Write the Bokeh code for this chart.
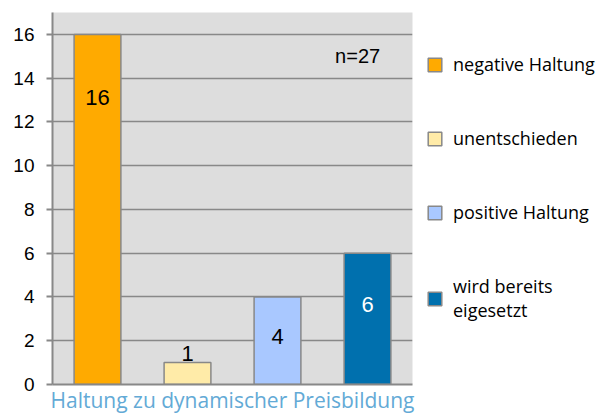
from bokeh.plotting import figure
from bokeh.models import ColumnDataSource, Range1d, Legend, LegendItem, FixedTicker, Label
from bokeh.embed import file_html
from bokeh.resources import INLINE
from bokeh.core.properties import value

categories = ["negative Haltung", "unentschieden", "positive Haltung", "wird bereits eigesetzt"]
legend_labels = ["negative Haltung", "unentschieden", "positive Haltung", "wird bereits\neigesetzt"]
counts = [16, 1, 4, 6]
colors = ["#FFAA00", "#FFEBA8", "#A9C8FF", "#0070AE"]
label_colors = ["black", "black", "black", "white"]
y_ticks = [0, 2, 4, 6, 8, 10, 12, 14, 16]
x_title = "Haltung zu dynamischer Preisbildung"
note = "n=27"

xpos = list(range(1, len(categories) + 1))
# label vertical placement relative to bar value (style)
label_frac = [0.82, 1.4, 0.55, 0.61]
label_y = [c * f for c, f in zip(counts, label_frac)]

src = ColumnDataSource(dict(x=xpos, cat=categories, val=counts, color=colors,
                            lab=[str(c) for c in counts], ly=label_y, lc=label_colors))

p = figure(x_range=Range1d(0.5, len(categories) + 0.5), y_range=Range1d(0, 17),
           width=600, height=416, frame_width=360, frame_height=372,
           min_border_left=52, min_border_top=12, min_border_bottom=32, min_border_right=10,
           output_backend="svg", toolbar_location=None)
p.border_fill_color = "white"
p.outline_line_color = None
p.background_fill_color = "#DDDDDD"

r = p.vbar(x="x", top="val", width=0.52, source=src, fill_color="color",
           line_color="#888888", line_width=1.5)

p.text(x="x", y="ly", text="lab", source=src, text_color="lc",
       text_align="center", text_baseline="middle", text_font=value("Liberation Sans"),
       text_font_size="22px")

p.add_layout(Label(x=3.89, y=15.0, text=note, text_align="center", text_baseline="middle",
                   text_font="Liberation Sans", text_font_size="20px", text_color="black"))

# axes
p.yaxis.ticker = FixedTicker(ticks=y_ticks)
p.yaxis.minor_tick_line_color = None
p.yaxis.major_tick_out = 6
p.yaxis.major_tick_in = 0
p.yaxis.major_tick_line_color = "#888888"
p.yaxis.major_tick_line_width = 2
p.yaxis.axis_line_color = "#888888"
p.yaxis.axis_line_width = 2
p.yaxis.major_label_text_font = "Liberation Sans"
p.yaxis.major_label_text_font_size = "19px"
p.yaxis.major_label_text_color = "black"
p.yaxis.major_label_standoff = 12

p.xaxis.ticker = FixedTicker(ticks=[])
p.xaxis.major_tick_line_color = None
p.xaxis.minor_tick_line_color = None
p.xaxis.axis_line_color = "#888888"
p.xaxis.axis_line_width = 2
p.xaxis.axis_label = x_title
p.xaxis.axis_label_text_font = "Open Sans"
p.xaxis.axis_label_text_font_style = "normal"
p.xaxis.axis_label_text_font_size = "21px"
p.xaxis.axis_label_text_color = "#63AAD6"
p.xaxis.axis_label_standoff = 1

p.xgrid.grid_line_color = None
p.ygrid.grid_line_color = "#888888"
p.ygrid.grid_line_width = 1.5

items = [LegendItem(label=l, renderers=[r], index=i) for i, l in enumerate(legend_labels)]
legend = Legend(items=items, location=(14, 62), border_line_color=None,
                background_fill_color=None, glyph_width=17, glyph_height=17,
                label_standoff=10, spacing=50, margin=0, padding=0,
                label_text_font="Open Sans", label_text_font_size="18px", label_text_color="black",
                label_text_line_height=0.85)
p.add_layout(legend, "right")

open("out.html", "w").write(file_html(p, INLINE))
